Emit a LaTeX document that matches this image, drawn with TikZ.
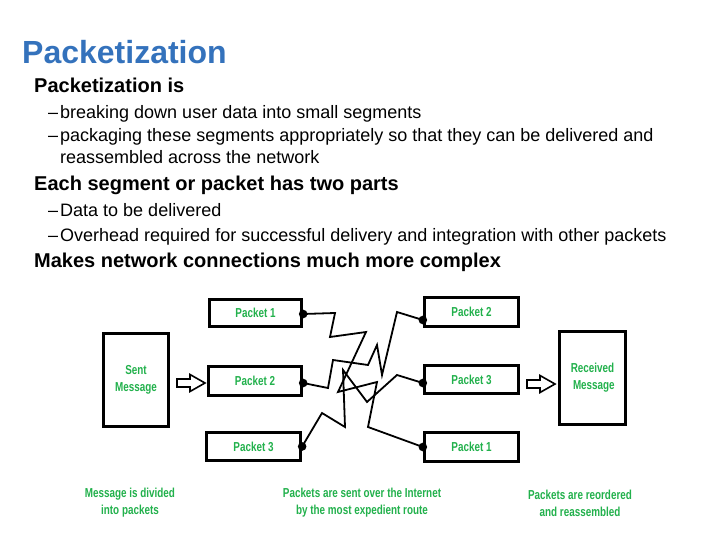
\documentclass[tikz,border=0pt]{standalone}
\usepackage{fontspec}
\setmainfont{Liberation Sans}
\newfontfamily\pktfont{Liberation Sans}[FakeStretch=0.76]
\usetikzlibrary{calc}
\definecolor{titleblue}{RGB}{52,114,188}
\definecolor{pktgreen}{RGB}{34,177,76}

\begin{document}
\begin{tikzpicture}[x=1pt,y=-1pt,
  heading/.style={anchor=base west, inner sep=0pt, text=titleblue,
    font=\fontsize{32}{36}\selectfont\bfseries},
  lvlone/.style={anchor=base west, inner sep=0pt,
    font=\fontsize{20}{24}\selectfont\bfseries},
  lvltwo/.style={anchor=base west, inner sep=0pt,
    font=\fontsize{18}{22}\selectfont},
  pktbox/.style={draw, line width=3.3pt, fill=white, inner sep=0pt,
    text=pktgreen, align=center,
    font=\pktfont\fontsize{13}{17}\selectfont\bfseries},
  caption/.style={inner sep=0pt, text=pktgreen, align=center,
    font=\pktfont\fontsize{13}{17}\selectfont\bfseries},
  wire/.style={line width=1.8pt, line join=miter},
  hollow/.style={draw, line width=1.6pt, fill=white, line join=miter},
]
% page
\fill[white] (0,0) rectangle (720,540);
\useasboundingbox (0,0) rectangle (720,540);

% slide text
\node[heading] (title) at (22,64) {Packetization};
\node[lvlone] (p1) at (34,93) {Packetization is};
\node[lvltwo] (p1a) at (48,119) {\makebox[12pt][l]{–}breaking down user data into small segments};
\node[lvltwo] (p1b) at (48,142) {\makebox[12pt][l]{–}packaging these segments appropriately so that they can be delivered and};
\node[lvltwo] (p1c) at (60,164) {reassembled across the network};
\node[lvlone] (p2) at (34,191) {Each segment or packet has two parts};
\node[lvltwo] (p2a) at (48,216) {\makebox[12pt][l]{–}Data to be delivered};
\node[lvltwo] (p2b) at (48,241) {\makebox[12pt][l]{–}Overhead required for successful delivery and integration with other packets};
\node[lvlone] (p3) at (34,267) {Makes network connections much more complex};

% message and packet boxes
\node[pktbox, minimum width=65pt, minimum height=93pt] (sent) at (136,380) {Sent\\Message};
\node[pktbox, minimum width=66pt, minimum height=93pt] (recv) at (592.5,378) {Received\\\ Message};

\node[pktbox, minimum width=92pt, minimum height=27pt] (L1) at (255.5,313) {Packet 1};
\node[pktbox, minimum width=93pt, minimum height=29pt] (L2) at (255,381) {Packet 2};
\node[pktbox, minimum width=94pt, minimum height=28pt] (L3) at (253.5,446.5) {Packet 3};

\node[pktbox, minimum width=94pt, minimum height=29pt] (R2) at (471.5,312) {Packet 2};
\node[pktbox, minimum width=94pt, minimum height=28pt] (R3) at (471.5,379.5) {Packet 3};
\node[pktbox, minimum width=94pt, minimum height=29pt] (R1) at (471.5,447) {Packet 1};

% hollow block arrows
\draw[hollow] (177,379) -- (190,379) -- (190,374.5) -- (205,383) -- (190,391.5) -- (190,387) -- (177,387) -- cycle;
\draw[hollow] (527,380) -- (540,380) -- (540,375.5) -- (555,384) -- (540,392.5) -- (540,388) -- (527,388) -- cycle;

% routes through the network
\coordinate (a0) at ($(L1.east)+(0,1)$);
\coordinate (a1) at (R1.west);
\draw[wire] (a0) -- (335,313) -- (330,337) -- (366,332) -- (338,392) -- (377,382) -- (368,427) -- (a1);

\coordinate (b0) at ($(L2.east)+(0,2)$);
\coordinate (b1) at ($(R2.west)+(0,8)$);
\draw[wire] (b0) -- (328,388) -- (333,360) -- (368,365) -- (377,345) -- (382,375) -- (397,312) -- (b1);

\coordinate (c0) at (L3.east);
\coordinate (c1) at ($(R3.west)+(0,3.5)$);
\draw[wire] (c0) -- (322,413) -- (345,427) -- (343,370) -- (367,402) -- (397,375) -- (c1);

\foreach \p in {a0,a1,b0,b1,c0,c1}
  \fill (\p) circle (4.3);

% captions
\node[caption] (cap1) at (130,503) {Message is divided\\into packets};
\node[caption] (cap2) at (362,503) {Packets are sent over the Internet\\by the most expedient route};
\node[caption] (cap3) at (580,503) {Packets are reordered\\and reassembled};
\end{tikzpicture}
\end{document}
